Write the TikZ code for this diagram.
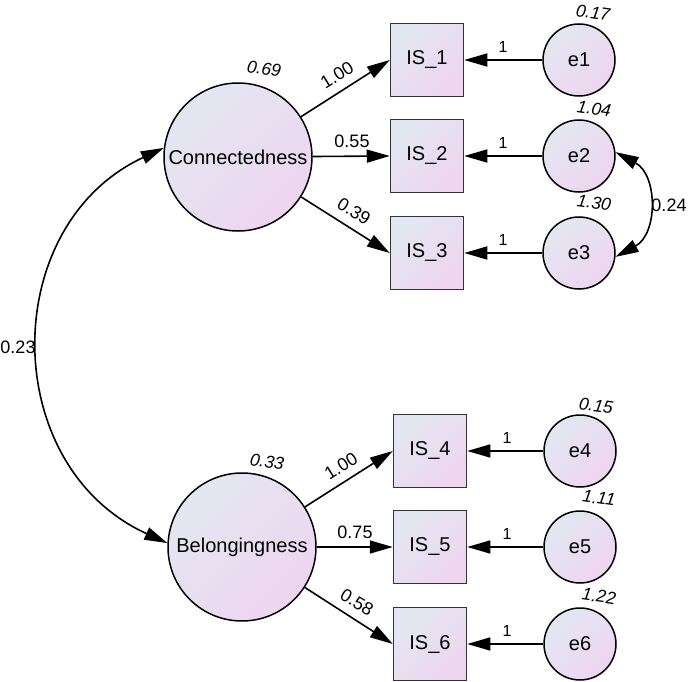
\documentclass[tikz,border=0pt]{standalone}
\usepackage{fontspec}
\setmainfont{Liberation Sans}
\usetikzlibrary{arrows.meta}
\definecolor{fillA}{HTML}{E3E7F1}
\definecolor{fillB}{HTML}{EED5F0}
\definecolor{boxline}{HTML}{333333}
\begin{document}
\begin{tikzpicture}[x=1pt,y=-1pt,
  shadefill/.style={top color=fillA, bottom color=fillB, shading angle=45},
  lat/.style={circle, draw=black, line width=1.5pt, minimum size=148pt, inner sep=0pt, shadefill, font=\fontsize{20}{22}\selectfont},
  obs/.style={rectangle, draw=boxline, line width=1.5pt, minimum size=73pt, inner sep=0pt, shadefill, font=\fontsize{20}{22}\selectfont},
  err/.style={circle, draw=black, line width=1.5pt, minimum size=72pt, inner sep=0pt, shadefill, font=\fontsize{20}{22}\selectfont},
  tip/.tip={Triangle[length=23pt,width=13pt]},
  pth/.style={line width=1.6pt, -tip},
  cov/.style={line width=1.6pt, tip-tip},
  est/.style={font=\fontsize{18}{20}\selectfont, inner sep=0pt},
  var/.style={font=\fontsize{17.5}{20}\selectfont\itshape, inner sep=0pt, rotate=-8},
  one/.style={font=\fontsize{16}{18}\selectfont, inner sep=0pt}]
\useasboundingbox (0,0) rectangle (688,682);
\fill[white] (0,0) rectangle (688,682);

% latent variables
\node[lat] (C) at (238,157) {Connectedness};
\node[lat] (B) at (242,547) {Belongingness};

% observed variables
\node[obs] (I1) at (427,60) {IS\_1};
\node[obs] (I2) at (427,156) {IS\_2};
\node[obs] (I3) at (427,253) {IS\_3};
\node[obs] (I4) at (430,451) {IS\_4};
\node[obs] (I5) at (430,547) {IS\_5};
\node[obs] (I6) at (430,644) {IS\_6};

% error terms
\node[err] (e1) at (579,60) {e1};
\node[err] (e2) at (579,156) {e2};
\node[err] (e3) at (579,253) {e3};
\node[err] (e4) at (580,451) {e4};
\node[err] (e5) at (580,547) {e5};
\node[err] (e6) at (580,644) {e6};

% loadings
\draw[pth] (C) -- (I1.west);
\draw[pth] (C) -- (I2.west);
\draw[pth] (C) -- (I3.west);
\draw[pth] (B) -- (I4.west);
\draw[pth] (B) -- (I5.west);
\draw[pth] (B) -- (I6.west);

% error paths
\draw[pth] (e1) -- (I1);
\draw[pth] (e2) -- (I2);
\draw[pth] (e3) -- (I3);
\draw[pth] (e4) -- (I4);
\draw[pth] (e5) -- (I5);
\draw[pth] (e6) -- (I6);

% covariances
\draw[cov] (C.173) .. controls (-2,225) and (-2,466) .. (B.177);
\draw[cov] (e2.6) .. controls (658,175) and (658,234) .. (e3.-6);

% loading labels
\node[est, rotate=32] (l1) at (337,75) {1.00};
\node[est] (l2) at (352,141) {0.55};
\node[est, rotate=-31] (l3) at (354,211) {0.39};
\node[est, rotate=32] (l4) at (341,466) {1.00};
\node[est] (l5) at (355,532) {0.75};
\node[est, rotate=-31] (l6) at (357,602) {0.58};

% variance labels
\node[var] (v1) at (264,69) {0.69};
\node[var] (v2) at (267,462) {0.33};
\node[var] (ve1) at (593,13) {0.17};
\node[var] (ve2) at (594,109) {1.04};
\node[var] (ve3) at (594,203) {1.30};
\node[var] (ve4) at (596,406) {0.15};
\node[var] (ve5) at (599,498) {1.11};
\node[var] (ve6) at (599,596) {1.22};

% covariance labels
\node[est] (c1) at (669,205) {0.24};
\node[est] (c2) at (18,347) {0.23};

% fixed loadings
\node[one] (o1) at (503,47) {1};
\node[one] (o2) at (503,143) {1};
\node[one] (o3) at (503,240) {1};
\node[one] (o4) at (507,438) {1};
\node[one] (o5) at (507,534) {1};
\node[one] (o6) at (507,631) {1};
\end{tikzpicture}
\end{document}
